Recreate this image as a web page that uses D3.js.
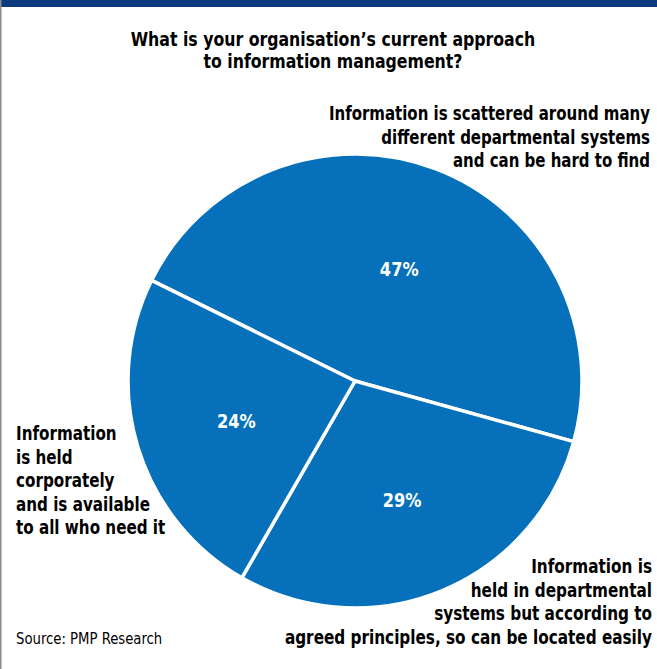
<!DOCTYPE html>
<html><head><meta charset="utf-8">
<script src="https://cdn.jsdelivr.net/npm/d3@7"></script>
<style>
html,body{margin:0;padding:0;background:#fff;}
svg{display:block;}
text{font-family:"DejaVu Sans Condensed","Liberation Sans Narrow","Arial Narrow",sans-serif;}
</style></head>
<body>
<svg id="chart" width="657" height="669"></svg>
<script>
const categories = [
  "Information is scattered around many different departmental systems and can be hard to find",
  "Information is held in departmental systems but according to agreed principles, so can be located easily",
  "Information is held corporately and is available to all who need it"
];
const values = [47, 29, 24];
const valueLabels = ["47%", "29%", "24%"];
const titleLines = ["What is your organisation\u2019s current approach", "to information management?"];
const labelLines = [
  ["Information is scattered around many", "different departmental systems", "and can be hard to find"],
  ["Information is", "held in departmental", "systems but according to", "agreed principles, so can be located easily"],
  ["Information", "is held", "corporately", "and is available", "to all who need it"]
];
const sourceText = "Source: PMP Research";

const W = 657, H = 669;
const svg = d3.select("#chart");

// frame
svg.append("rect").attr("x",0).attr("y",0).attr("width",W).attr("height",7).attr("fill","#0c3a7d");
svg.append("line").attr("x1",0.75).attr("x2",0.75).attr("y1",0).attr("y2",H).attr("stroke","#8a8a8a").attr("stroke-width",1.5);

function block(x, y, lines, opts){
  const t = svg.append("text")
    .attr("transform",`translate(${x},${y}) scale(${opts.sx},1)`)
    .attr("text-anchor",opts.anchor)
    .attr("font-size",opts.size).attr("font-weight",opts.weight||"bold").attr("fill","#000");
  t.selectAll("tspan").data(lines).join("tspan")
    .attr("x",0).attr("dy",(d,i)=> i===0?0:opts.lh).text(d=>d);
  return t;
}

// title
block(333, 46, titleLines, {sx:0.875, anchor:"middle", size:20, lh:22});

// pie
const cx = 355, cy = 381, R = 227;
const startA = -63.7 * Math.PI/180;
const pie = d3.pie().sort(null).value(d=>d).startAngle(startA).endAngle(startA + 2*Math.PI);
const arcs = pie(values);
const arc = d3.arc().innerRadius(0).outerRadius(R);
const labelArc = d3.arc().innerRadius(124).outerRadius(124);
const g = svg.append("g").attr("transform",`translate(${cx},${cy})`);
g.selectAll("path").data(arcs).join("path")
  .attr("d",arc).attr("fill","#0671ba")
  .attr("stroke","#fff").attr("stroke-width",3.5).attr("stroke-linejoin","round");
g.selectAll("text.pct").data(arcs).join("text").attr("class","pct")
  .attr("transform",d=>{const c=labelArc.centroid(d); return `translate(${c[0]},${c[1]+4}) scale(0.9,1)`;})
  .attr("text-anchor","middle").attr("dy","0.36em")
  .attr("font-size",20).attr("font-weight","bold").attr("fill","#fff")
  .text((d,i)=>valueLabels[i]);

// category labels
const labelPos = [
  {x:650, y:120, anchor:"end", sx:0.855},
  {x:652, y:573, anchor:"end", sx:0.87},
  {x:16, y:440, anchor:"start", sx:0.865}
];
labelLines.forEach((lines,i)=>{
  const p = labelPos[i];
  block(p.x, p.y, lines, {sx:p.sx, anchor:p.anchor, size:19.5, lh:23.6});
});

block(16, 644, [sourceText], {sx:0.92, anchor:"start", size:16, weight:"normal", lh:0});
</script>
</body></html>
